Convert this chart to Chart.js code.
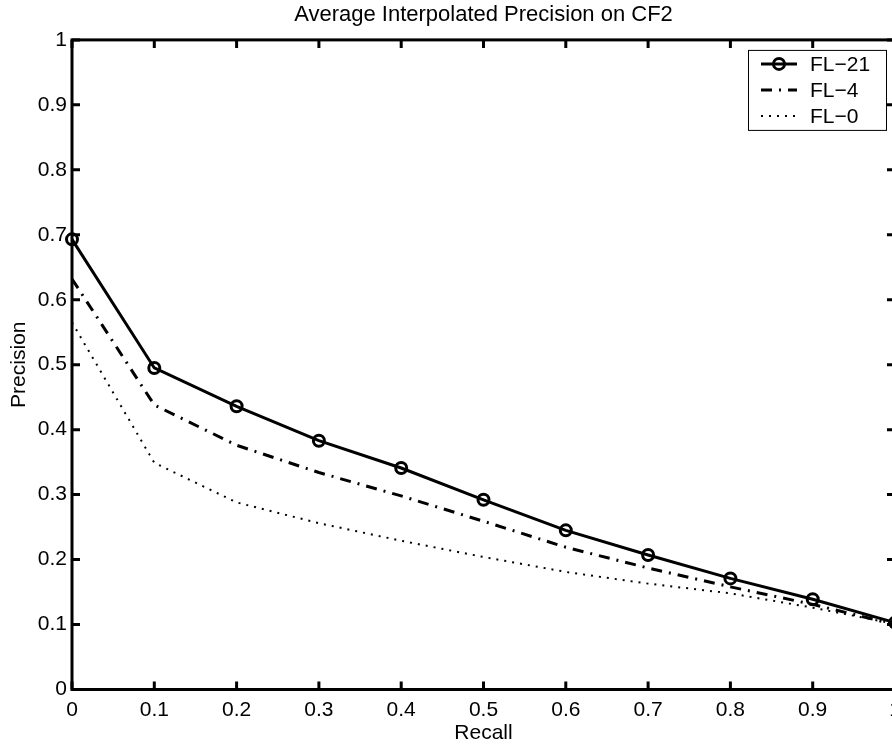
<!DOCTYPE html>
<html>
<head>
<meta charset="utf-8">
<title>Average Interpolated Precision on CF2</title>
<script src="https://cdn.jsdelivr.net/npm/chart.js@4.4.1/dist/chart.umd.min.js"></script>
<style>
    html, body { margin: 0; padding: 0; background: #fff; overflow: hidden; }
    #wrap { position: relative; width: 940px; height: 747px; }
</style>
</head>
<body>
<div id="wrap"><canvas id="prChart"></canvas></div>
<script>
    'use strict';

    const recall = [0, 0.1, 0.2, 0.3, 0.4, 0.5, 0.6, 0.7, 0.8, 0.9, 1.0];
    const fl21 = [0.693, 0.495, 0.436, 0.383, 0.341, 0.292, 0.245, 0.207, 0.171, 0.139, 0.103];
    const fl4 = [0.632, 0.438, 0.376, 0.334, 0.298, 0.259, 0.219, 0.187, 0.158, 0.131, 0.100];
    const fl0 = [0.565, 0.349, 0.288, 0.256, 0.229, 0.204, 0.181, 0.163, 0.148, 0.126, 0.101];

    const xTicks = [0, 0.1, 0.2, 0.3, 0.4, 0.5, 0.6, 0.7, 0.8, 0.9, 1];
    const xTickLabels = ['0', '0.1', '0.2', '0.3', '0.4', '0.5', '0.6', '0.7', '0.8', '0.9', '1'];
    const yTicks = [0, 0.1, 0.2, 0.3, 0.4, 0.5, 0.6, 0.7, 0.8, 0.9, 1];
    const yTickLabels = ['0', '0.1', '0.2', '0.3', '0.4', '0.5', '0.6', '0.7', '0.8', '0.9', '1'];

    const ink = '#000000';
    const fontFamily = "'Liberation Sans', Arial, Helvetica, sans-serif";

    Chart.defaults.font.family = fontFamily;
    Chart.defaults.font.size = 21;
    Chart.defaults.color = ink;

    function points(values) {
        return recall.map((r, i) => ({ x: r, y: values[i] }));
    }

    // box around the axes with inward ticks on all four sides
    const axesFrame = {
        id: 'axesFrame',
        afterDraw(chart) {
            const { ctx, chartArea: a, scales } = chart;
            ctx.save();
            ctx.strokeStyle = ink;
            ctx.lineWidth = 3;
            ctx.lineCap = 'butt';
            ctx.strokeRect(a.left, a.top, a.right - a.left, a.bottom - a.top);
            const len = 8;
            ctx.beginPath();
            xTicks.forEach((v) => {
                const px = scales.x.getPixelForValue(v);
                ctx.moveTo(px, a.bottom); ctx.lineTo(px, a.bottom - len);
                ctx.moveTo(px, a.top); ctx.lineTo(px, a.top + len);
            });
            yTicks.forEach((v) => {
                const py = scales.y.getPixelForValue(v);
                ctx.moveTo(a.left, py); ctx.lineTo(a.left + len, py);
                ctx.moveTo(a.right, py); ctx.lineTo(a.right - len, py);
            });
            ctx.stroke();
            ctx.restore();
        }
    };

    // legend box drawn in the upper right corner, like the original figure
    const boxLegend = {
        id: 'boxLegend',
        afterDraw(chart) {
            const { ctx, chartArea: a } = chart;
            const right = a.right - 9;
            const top = a.top + 10;
            const w = 138, h = 80, rowH = 26;
            const left = right - w;
            ctx.save();
            ctx.fillStyle = '#fff';
            ctx.fillRect(left, top, w, h);
            ctx.strokeStyle = ink;
            ctx.lineWidth = 1;
            ctx.strokeRect(left + 0.5, top + 0.5, w, h);
            chart.data.datasets.forEach((ds, i) => {
                const y = top + 14 + i * rowH;
                const x0 = left + 13, x1 = left + 49;
                ctx.beginPath();
                ctx.setLineDash(ds.borderDash || []);
                ctx.lineWidth = ds.borderWidth;
                ctx.moveTo(x0, y);
                ctx.lineTo(x1, y);
                ctx.stroke();
                ctx.setLineDash([]);
                if (ds.pointRadius > 0) {
                    ctx.beginPath();
                    ctx.lineWidth = ds.pointBorderWidth;
                    ctx.arc((x0 + x1) / 2, y, ds.pointRadius, 0, Math.PI * 2);
                    ctx.stroke();
                }
                ctx.fillStyle = ink;
                ctx.font = '21px ' + fontFamily;
                ctx.textBaseline = 'middle';
                ctx.textAlign = 'left';
                ctx.fillText(ds.label, left + 62, y + 1);
            });
            ctx.restore();
        }
    };

    new Chart(document.getElementById('prChart'), {
        type: 'line',
        data: {
            datasets: [
                {
                    label: 'FL\u221221',
                    data: points(fl21),
                    borderColor: ink,
                    borderWidth: 3,
                    pointRadius: 5.5,
                    pointBorderWidth: 3,
                    pointBorderColor: ink,
                    pointBackgroundColor: 'rgba(0,0,0,0)',
                    tension: 0
                },
                {
                    label: 'FL\u22124',
                    data: points(fl4),
                    borderColor: ink,
                    borderWidth: 3,
                    borderDash: [11, 7, 2, 7],
                    pointRadius: 0,
                    tension: 0
                },
                {
                    label: 'FL\u22120',
                    data: points(fl0),
                    borderColor: ink,
                    borderWidth: 2,
                    borderDash: [2, 6],
                    pointRadius: 0,
                    tension: 0
                }
            ]
        },
        options: {
            responsive: true,
            maintainAspectRatio: false,
            animation: false,
            clip: false,
            layout: { padding: { left: 0, top: 0, right: 45, bottom: 0 } },
            plugins: {
                legend: { display: false },
                tooltip: { enabled: false },
                title: {
                    display: true,
                    fullSize: false,
                    text: 'Average Interpolated Precision on CF2',
                    color: ink,
                    font: { size: 22, weight: 'normal' },
                    padding: { top: 1.5, bottom: 12 }
                }
            },
            scales: {
                x: {
                    type: 'linear',
                    min: 0,
                    max: 1,
                    afterBuildTicks: (scale) => { scale.ticks = xTicks.map((v) => ({ value: v })); },
                    afterFit: (scale) => { scale.height = 57.5; },
                    grid: { display: false, drawTicks: false },
                    border: { display: false },
                    ticks: {
                        padding: 8,
                        maxRotation: 0,
                        autoSkip: false,
                        callback: (v, i) => xTickLabels[i]
                    },
                    title: {
                        display: true,
                        text: 'Recall',
                        padding: { top: 0, bottom: 1 }
                    }
                },
                y: {
                    min: 0,
                    max: 1,
                    afterBuildTicks: (scale) => { scale.ticks = yTicks.map((v) => ({ value: v })); },
                    afterFit: (scale) => { scale.width = 72; },
                    grid: { display: false, drawTicks: false },
                    border: { display: false },
                    ticks: {
                        padding: 5,
                        autoSkip: false,
                        callback: (v, i) => yTickLabels[i]
                    },
                    title: {
                        display: true,
                        text: 'Precision',
                        padding: { top: 7, bottom: 0 }
                    }
                }
            }
        },
        plugins: [axesFrame, boxLegend]
    });
</script>
</body>
</html>
